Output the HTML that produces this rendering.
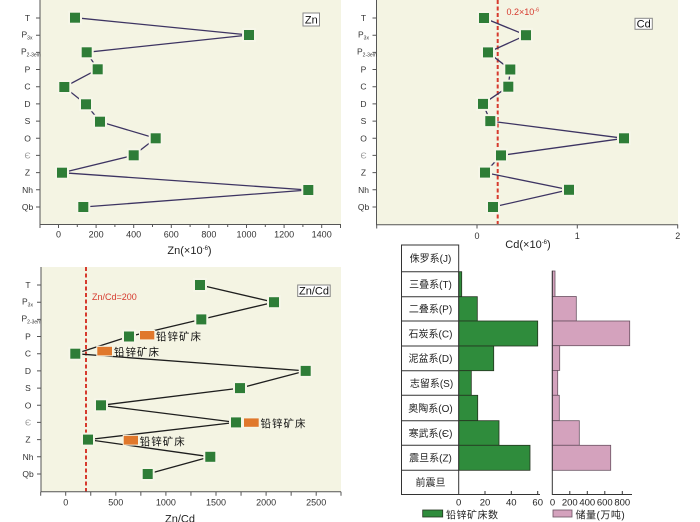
<!DOCTYPE html>
<html><head><meta charset="utf-8">
<style>
html,body{margin:0;padding:0;background:#fff;}
svg{display:block;}
text{font-family:"Liberation Sans","Noto Sans CJK SC",sans-serif;}
</style></head><body>
<svg width="700" height="522" viewBox="0 0 700 522" xmlns="http://www.w3.org/2000/svg">
<rect width="700" height="522" fill="#fff"/>

<!-- ===== Panel A (Zn) ===== -->
<rect x="40" y="0" width="301" height="224" fill="#f4f4e3"/>
<polyline points="75,17.7 249,35 86.7,52.3 97.7,69.3 64.3,87 86,104.3 100,121.7 155.7,138.3 133.7,155.3 62,172.7 308.3,190 83.3,207" fill="none" stroke="#3d3462" stroke-width="1.3"/>
<g fill="#2e7d37" stroke="#f6f6e8" stroke-width="4" paint-order="stroke">
<rect x="70" y="12.7" width="10" height="10"/>
<rect x="244" y="30" width="10" height="10"/>
<rect x="81.7" y="47.3" width="10" height="10"/>
<rect x="92.7" y="64.3" width="10" height="10"/>
<rect x="59.3" y="82" width="10" height="10"/>
<rect x="81" y="99.3" width="10" height="10"/>
<rect x="95" y="116.7" width="10" height="10"/>
<rect x="150.7" y="133.3" width="10" height="10"/>
<rect x="128.7" y="150.3" width="10" height="10"/>
<rect x="57" y="167.7" width="10" height="10"/>
<rect x="303.3" y="185" width="10" height="10"/>
<rect x="78.3" y="202" width="10" height="10"/>
</g>
<path d="M40 0V224.5H341" fill="none" stroke="#555" stroke-width="1"/>
<path d="M36 18H40M36 35.2H40M36 52.4H40M36 69.5H40M36 86.7H40M36 103.9H40M36 121.1H40M36 138.3H40M36 155.4H40M36 172.6H40M36 189.8H40M36 207H40
M40 224V228M58.5 224V228M77.3 224V227M96.1 224V228M114.9 224V227M133.7 224V228M152.5 224V227M171.3 224V228M190.1 224V227M208.9 224V228M227.7 224V227M246.5 224V228M265.3 224V227M284.1 224V228M302.9 224V227M321.7 224V228M340.5 224V228" stroke="#555" stroke-width="1"/>
<g font-size="8.5" fill="#333" text-anchor="middle">
<text x="27.5" y="21">T</text>
<text x="27.5" y="72.5">P</text>
<text x="27.5" y="89.7">C</text>
<text x="27.5" y="106.9">D</text>
<text x="27.5" y="124.1">S</text>
<text x="27.5" y="141.3">O</text>
<text x="27.5" y="158.4" fill="#999">Є</text>
<text x="27.5" y="175.6">Z</text>
<text x="27.5" y="192.8">Nh</text>
<text x="27.5" y="210">Qb</text>
</g>
<g font-size="8.5" fill="#333">
<text x="21.5" y="37.5">P<tspan font-size="5" dy="2">3x</tspan></text>
<text x="21" y="54.5">P<tspan font-size="5" dy="2">2-3em</tspan></text>
</g>
<g font-size="9" fill="#333" text-anchor="middle">
<text x="58.5" y="237.5">0</text>
<text x="96.1" y="237.5">200</text>
<text x="133.7" y="237.5">400</text>
<text x="171.3" y="237.5">600</text>
<text x="208.9" y="237.5">800</text>
<text x="246.5" y="237.5">1000</text>
<text x="284.1" y="237.5">1200</text>
<text x="321.7" y="237.5">1400</text>
</g>
<text x="189.5" y="254" font-size="11" fill="#222" text-anchor="middle">Zn(×10<tspan font-size="6" dy="-4">-6</tspan><tspan dy="4">)</tspan></text>
<rect x="303" y="13" width="16.5" height="13" fill="#fff" stroke="#888" stroke-width="1"/>
<text x="311.3" y="23.5" font-size="11" fill="#111" text-anchor="middle">Zn</text>

<!-- ===== Panel B (Cd) ===== -->
<rect x="376.5" y="0" width="301.5" height="224.5" fill="#f4f4e3"/>
<line x1="497.7" y1="0" x2="497.7" y2="224" stroke="#d63a2e" stroke-width="2" stroke-dasharray="4 2.5"/>
<polyline points="484,18 526,35.2 488,52.4 510.3,69.5 508.3,86.7 483,103.9 490.3,121.1 624,138.3 501,155.4 485,172.6 569,189.8 493,207" fill="none" stroke="#3d3462" stroke-width="1.3"/>
<g fill="#2e7d37" stroke="#f6f6e8" stroke-width="4" paint-order="stroke">
<rect x="479" y="13" width="10" height="10"/>
<rect x="521" y="30.2" width="10" height="10"/>
<rect x="483" y="47.4" width="10" height="10"/>
<rect x="505.3" y="64.5" width="10" height="10"/>
<rect x="503.3" y="81.7" width="10" height="10"/>
<rect x="478" y="98.9" width="10" height="10"/>
<rect x="485.3" y="116.1" width="10" height="10"/>
<rect x="619" y="133.3" width="10" height="10"/>
<rect x="496" y="150.4" width="10" height="10"/>
<rect x="480" y="167.6" width="10" height="10"/>
<rect x="564" y="184.8" width="10" height="10"/>
<rect x="488" y="202" width="10" height="10"/>
</g>
<path d="M376.5 0V224.7H678" fill="none" stroke="#555" stroke-width="1"/>
<path d="M372.5 18H376.5M372.5 35.2H376.5M372.5 52.4H376.5M372.5 69.5H376.5M372.5 86.7H376.5M372.5 103.9H376.5M372.5 121.1H376.5M372.5 138.3H376.5M372.5 155.4H376.5M372.5 172.6H376.5M372.5 189.8H376.5M372.5 207H376.5
M376.7 224.5V228.5M477 224.5V228.5M577.3 224.5V228.5M677.7 224.5V228.5" stroke="#555" stroke-width="1"/>
<g font-size="8.5" fill="#333" text-anchor="middle">
<text x="363.5" y="21">T</text>
<text x="363.5" y="72.5">P</text>
<text x="363.5" y="89.7">C</text>
<text x="363.5" y="106.9">D</text>
<text x="363.5" y="124.1">S</text>
<text x="363.5" y="141.3">O</text>
<text x="363.5" y="158.4" fill="#999">Є</text>
<text x="363.5" y="175.6">Z</text>
<text x="363.5" y="192.8">Nh</text>
<text x="363.5" y="210">Qb</text>
</g>
<g font-size="8.5" fill="#333">
<text x="358" y="37.5">P<tspan font-size="5" dy="2">3x</tspan></text>
<text x="357" y="54.5">P<tspan font-size="5" dy="2">2-3em</tspan></text>
</g>
<g font-size="9" fill="#333" text-anchor="middle">
<text x="477" y="239">0</text>
<text x="577.3" y="239">1</text>
<text x="677.7" y="239">2</text>
</g>
<text x="528" y="248" font-size="11" fill="#222" text-anchor="middle">Cd(×10<tspan font-size="6" dy="-4">-6</tspan><tspan dy="4">)</tspan></text>
<text x="506.5" y="15" font-size="9" fill="#d63a2e">0.2×10<tspan font-size="5.5" dy="-3.5">-6</tspan></text>
<rect x="635" y="18.3" width="17.3" height="11" fill="#fff" stroke="#888" stroke-width="1"/>
<text x="643.7" y="27.5" font-size="11" fill="#111" text-anchor="middle">Cd</text>

<!-- ===== Panel C (Zn/Cd) ===== -->
<rect x="41" y="267" width="300" height="225" fill="#f4f4e3"/>
<line x1="86" y1="267" x2="86" y2="492" stroke="#d63a2e" stroke-width="2" stroke-dasharray="4 2.5"/>
<polyline points="200,285 274,302.2 201.3,319.4 129,336.5 75.3,353.7 305.7,370.9 240,388.1 101,405.3 236,422.4 88,439.6 210.3,456.8 147.7,474" fill="none" stroke="#1e1e1e" stroke-width="1.3"/>
<g fill="#2e7d37" stroke="#f6f6e8" stroke-width="4" paint-order="stroke">
<rect x="195" y="280" width="10" height="10"/>
<rect x="269" y="297.2" width="10" height="10"/>
<rect x="196.3" y="314.4" width="10" height="10"/>
<rect x="124" y="331.5" width="10" height="10"/>
<rect x="70.3" y="348.7" width="10" height="10"/>
<rect x="300.7" y="365.9" width="10" height="10"/>
<rect x="235" y="383.1" width="10" height="10"/>
<rect x="96" y="400.3" width="10" height="10"/>
<rect x="231" y="417.4" width="10" height="10"/>
<rect x="83" y="434.6" width="10" height="10"/>
<rect x="205.3" y="451.8" width="10" height="10"/>
<rect x="142.7" y="469" width="10" height="10"/>
</g>
<g fill="#e0782c" stroke="#f6f6e8" stroke-width="2" paint-order="stroke">
<rect x="140" y="331" width="14.3" height="8.4"/>
<rect x="97.3" y="346.8" width="14.7" height="8.6"/>
<rect x="244" y="418.4" width="14.7" height="8.4"/>
<rect x="123.7" y="435.8" width="14.3" height="8.8"/>
</g>
<g font-size="10.5" fill="#111" letter-spacing="1" font-family="'Noto Sans CJK SC',sans-serif">
<text x="156" y="339.8">铅锌矿床</text>
<text x="114" y="355.4">铅锌矿床</text>
<text x="260.5" y="427">铅锌矿床</text>
<text x="139.8" y="444.8">铅锌矿床</text>
</g>
<path d="M41 267V491.7H341" fill="none" stroke="#555" stroke-width="1"/>
<path d="M37 285H41M37 302.2H41M37 319.4H41M37 336.5H41M37 353.7H41M37 370.9H41M37 388.1H41M37 405.3H41M37 422.4H41M37 439.6H41M37 456.8H41M37 474H41
M40.7 491.7V495.7M65.7 491.7V495.7M90.75 491.7V495.7M115.8 491.7V495.7M140.85 491.7V495.7M165.9 491.7V495.7M190.95 491.7V495.7M216 491.7V495.7M241.05 491.7V495.7M266.1 491.7V495.7M291.15 491.7V495.7M316.2 491.7V495.7M341 491.7V495.7" stroke="#555" stroke-width="1"/>
<g font-size="8.5" fill="#333" text-anchor="middle">
<text x="28" y="288">T</text>
<text x="28" y="339.5">P</text>
<text x="28" y="356.7">C</text>
<text x="28" y="373.9">D</text>
<text x="28" y="391.1">S</text>
<text x="28" y="408.3">O</text>
<text x="28" y="425.4" fill="#999">Є</text>
<text x="28" y="442.6">Z</text>
<text x="28" y="459.8">Nh</text>
<text x="28" y="477">Qb</text>
</g>
<g font-size="8.5" fill="#333">
<text x="22" y="304.5">P<tspan font-size="5" dy="2">3x</tspan></text>
<text x="21.5" y="321.5">P<tspan font-size="5" dy="2">2-3em</tspan></text>
</g>
<g font-size="9" fill="#333" text-anchor="middle">
<text x="65.7" y="505.5">0</text>
<text x="115.8" y="505.5">500</text>
<text x="165.9" y="505.5">1000</text>
<text x="216" y="505.5">1500</text>
<text x="266.1" y="505.5">2000</text>
<text x="316.2" y="505.5">2500</text>
</g>
<text x="92" y="299.8" font-size="9" fill="#d63a2e">Zn/Cd=200</text>
<text x="180" y="522.5" font-size="11" fill="#222" text-anchor="middle">Zn/Cd</text>
<rect x="297.7" y="285" width="32.5" height="11.5" fill="#fff" stroke="#888" stroke-width="1"/>
<text x="314" y="294.5" font-size="11" fill="#111" text-anchor="middle">Zn/Cd</text>

<!-- ===== Panel D (bars) ===== -->
<g fill="#2f8c3c" stroke="#24331f" stroke-width="0.8">
<rect x="458.7" y="271.7" width="3" height="25"/>
<rect x="458.7" y="296.7" width="18.6" height="24.3"/>
<rect x="458.7" y="321" width="79" height="25"/>
<rect x="458.7" y="346" width="35" height="24.7"/>
<rect x="458.7" y="370.7" width="12.6" height="24.6"/>
<rect x="458.7" y="395.3" width="19" height="25.4"/>
<rect x="458.7" y="420.7" width="40.3" height="24.6"/>
<rect x="458.7" y="445.3" width="71.3" height="25"/>
</g>
<g fill="#d4a2bd" stroke="#6a5262" stroke-width="0.8">
<rect x="552.3" y="271" width="2.7" height="25.5"/>
<rect x="552.3" y="296.5" width="24" height="24.5"/>
<rect x="552.3" y="321" width="77.4" height="24.7"/>
<rect x="552.3" y="345.7" width="7.4" height="24.7"/>
<rect x="552.3" y="370.4" width="5.4" height="24.9"/>
<rect x="552.3" y="395.3" width="7" height="25.4"/>
<rect x="552.3" y="420.7" width="27" height="24.6"/>
<rect x="552.3" y="445.3" width="58.4" height="25"/>
</g>
<g stroke="#333" stroke-width="1" fill="none">
<rect x="401.5" y="245" width="57.2" height="249.5"/>
<path d="M401.5 271.7H458.7M401.5 296.7H458.7M401.5 321H458.7M401.5 346H458.7M401.5 370.7H458.7M401.5 395.3H458.7M401.5 420.7H458.7M401.5 445.3H458.7M401.5 470.3H458.7"/>
<path d="M458.7 494.5H540M485 494.5V491M511.3 494.5V491M537.7 494.5V491"/>
<path d="M552.3 270.7V494.5H632M569.8 494.5V491M587.3 494.5V491M604.8 494.5V491M622.3 494.5V491"/>
</g>
<g font-size="10" fill="#222" text-anchor="middle">
<text x="430.5" y="262">侏罗系(J)</text>
<text x="430.5" y="288">三叠系(T)</text>
<text x="430.5" y="312.6">二叠系(P)</text>
<text x="430.5" y="337.3">石炭系(C)</text>
<text x="430.5" y="362.1">泥盆系(D)</text>
<text x="431.5" y="386.8">志留系(S)</text>
<text x="430.5" y="411.8">奥陶系(O)</text>
<text x="430.5" y="436.8">寒武系(Є)</text>
<text x="430.5" y="461.6">震旦系(Z)</text>
<text x="430.5" y="486.2">前震旦</text>
</g>
<g font-size="9.5" fill="#222" text-anchor="middle">
<text x="458.7" y="505.5">0</text>
<text x="485" y="505.5">20</text>
<text x="511.3" y="505.5">40</text>
<text x="537.7" y="505.5">60</text>
<text x="552.5" y="505.5">0</text>
<text x="569.8" y="505.5">200</text>
<text x="587.3" y="505.5">400</text>
<text x="604.8" y="505.5">600</text>
<text x="622.3" y="505.5">800</text>
</g>
<rect x="422.7" y="510" width="20" height="7" fill="#2f8c3c" stroke="#24331f" stroke-width="0.8"/>
<text x="446" y="518.5" font-size="10" fill="#222" letter-spacing="0.5">铅锌矿床数</text>
<rect x="553" y="510" width="19" height="7" fill="#d4a2bd" stroke="#6a5262" stroke-width="0.8"/>
<text x="575.5" y="518.5" font-size="10" fill="#222" letter-spacing="0.5">储量(万吨)</text>
</svg>
</body></html>
